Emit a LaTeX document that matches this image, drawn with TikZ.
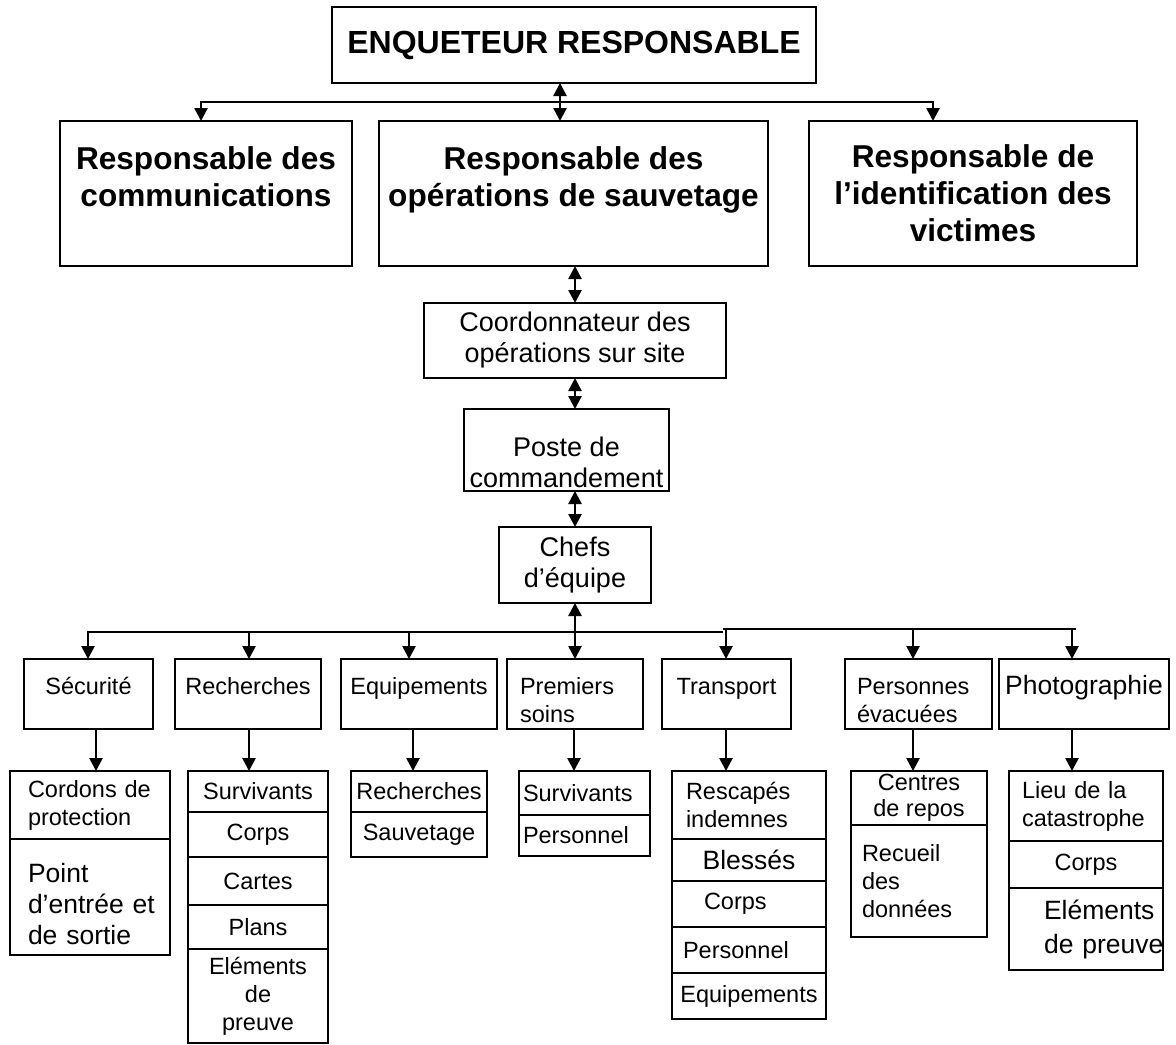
\documentclass[tikz,border=0pt]{standalone}
\usepackage{fontspec}
\setmainfont{Liberation Sans}
\usetikzlibrary{arrows.meta,positioning}

\tikzset{
  base/.style={draw, line width=1.3pt, inner xsep=2pt, inner ysep=2pt,
    outer sep=0pt, align=center},
  titlebox/.style={base, font=\bfseries\fontsize{16}{19}\selectfont,
    minimum width=242pt, minimum height=38pt},
  head/.style={base, font=\bfseries\fontsize{15.8}{18.5}\selectfont,
    minimum height=72.5pt},
  mid/.style={base, font=\fontsize{13.5}{15.5}\selectfont},
  team/.style={base, font=\fontsize{11.75}{14}\selectfont,
    minimum height=35pt, text height=9pt, text depth=9pt},
  cell/.style={base, font=\fontsize{11.75}{14}\selectfont},
  big/.style={font=\fontsize{13.25}{15.5}\selectfont},
  lft/.style 2 args={align=left, inner xsep=#1, text width=#2},
  wire/.style={line width=1.3pt},
  link/.style={line width=1.3pt, -{Triangle[width=6.5pt,length=6.5pt]}},
  dlink/.style={line width=1.3pt,
    {Triangle[width=6.5pt,length=6.5pt]}-{Triangle[width=6.5pt,length=6.5pt]}}
}

\begin{document}
\begin{tikzpicture}[x=0.5pt,y=-0.5pt]
  \useasboundingbox (0,0) rectangle (1176,1044);
  % Add the top boxes
  \node[titlebox] (enq) at (574,45) {ENQUETEUR RESPONSABLE};
  \node[head, minimum width=146pt, text height=30pt, text depth=17.5pt]
    (comm) at (206,193.5) {Responsable des\\communications};
  \node[head, minimum width=194.5pt, text height=30pt, text depth=17.5pt]
    (sauv) at (573.5,193.5) {Responsable des\\opérations de sauvetage};
  \node[head, minimum width=164pt]
    (ident) at (973,193.5) {Responsable de\\l’identification des\\victimes};
  % Add the chain of command
  \node[mid, minimum width=151pt, minimum height=37.5pt]
    (coord) at (575,340.5) {Coordonnateur des\\opérations sur site};
  \node[mid, minimum width=102.5pt, minimum height=41pt, inner ysep=0pt,
    text height=38pt, text depth=0.3pt]
    (poste) at (566.5,450) {Poste de\\commandement};
  \node[mid, minimum width=76pt, minimum height=38pt]
    (chefs) at (575,565) {Chefs\\d’équipe};
  % Add the teams
  \node[team, minimum width=64.5pt] (secu) at (88.5,694) {Sécurité};
  \node[team, minimum width=73pt] (rech) at (248,694) {Recherches};
  \node[team, minimum width=78pt] (equip) at (419,694) {Equipements};
  \node[team, lft={6.5pt}{55pt}] (soins) at (575,694) {Premiers\\soins};
  \node[team, minimum width=64.5pt] (transp) at (726.5,694) {Transport};
  \node[team, lft={6pt}{61.5pt}] (evac) at (918.5,694) {Personnes\\évacuées};
  \node[team, big, minimum width=85pt] (photo) at (1084,694) {Photographie};
  % Add the tasks of each team
  \node[cell, minimum height=34pt, lft={9pt}{62pt}, anchor=north]
    (secu1) at (90,771) {Cordons~de\\protection};
  \node[cell, big, minimum height=58pt, lft={9pt}{62pt},
    text height=10pt, text depth=24.5pt, below=0pt of secu1]
    (secu2) {Point\\d’entrée~et\\de sortie};

  \node[cell, minimum width=70pt, minimum height=20.5pt, anchor=north]
    (rech1) at (258,771) {Survivants};
  \node[cell, minimum width=70pt, minimum height=22.5pt, below=0pt of rech1]
    (rech2) {Corps};
  \node[cell, minimum width=70pt, minimum height=24pt, below=0pt of rech2]
    (rech3) {Cartes};
  \node[cell, minimum width=70pt, minimum height=22pt, below=0pt of rech3]
    (rech4) {Plans};
  \node[cell, minimum width=70pt, minimum height=47pt, below=0pt of rech4]
    (rech5) {Eléments\\de\\preuve};

  \node[cell, minimum width=68pt, minimum height=20.5pt, anchor=north]
    (equip1) at (419,771) {Recherches};
  \node[cell, minimum width=68pt, minimum height=22.5pt, below=0pt of equip1]
    (equip2) {Sauvetage};

  \node[cell, minimum height=22pt, lft={2pt}{61.5pt}, anchor=north]
    (soins1) at (584.5,771) {Survivants};
  \node[cell, minimum height=20.5pt, lft={2pt}{61.5pt}, below=0pt of soins1]
    (soins2) {Personnel};

  \node[cell, minimum height=34pt, lft={7pt}{63pt}, anchor=north]
    (transp1) at (749,771) {Rescapés\\indemnes};
  \node[cell, big, minimum width=77pt, minimum height=21pt, below=0pt of transp1]
    (transp2) {Blessés};
  \node[cell, minimum height=23pt, lft={16pt}{45pt}, below=0pt of transp2]
    (transp3) {Corps};
  \node[cell, minimum height=23pt, lft={5.5pt}{66pt}, below=0pt of transp3]
    (transp4) {Personnel};
  \node[cell, minimum width=77pt, minimum height=23pt, below=0pt of transp4]
    (transp5) {Equipements};

  \node[cell, font=\fontsize{11.75}{13}\selectfont, inner ysep=0pt,
    minimum width=68pt, minimum height=27pt, anchor=north]
    (evac1) at (919,771) {Centres\\de repos};
  \node[cell, minimum height=56pt, lft={5.5pt}{57pt}, below=0pt of evac1]
    (evac2) {Recueil\\des\\données};

  \node[cell, minimum height=35pt, lft={6.5pt}{64pt}, anchor=north]
    (photo1) at (1086,771) {Lieu de la\\catastrophe};
  \node[cell, minimum width=77pt, minimum height=23.5pt, below=0pt of photo1]
    (photo2) {Corps};
  \node[cell, font=\fontsize{13.25}{17}\selectfont, minimum height=41pt,
    lft={17.5pt}{42pt}, below=0pt of photo2]
    (photo3) {Eléments\\de~preuve};

  % Connect the top boxes
  \coordinate (topL) at (201,102);
  \coordinate (topM) at (560,102);
  \coordinate (topR) at (933,102);
  \draw[link] (topM) -- (topL) -- (topL |- comm.north);
  \draw[link] (topM) -- (topR) -- (topR |- ident.north);
  \draw[dlink] (topM |- enq.south) -- (topM |- sauv.north);
  % Connect the chain of command
  \draw[dlink] (coord.north |- sauv.south) -- (coord.north);
  \draw[dlink] (chefs.north |- coord.south) -- (chefs.north |- poste.north);
  \draw[dlink] (chefs.north |- poste.south) -- (chefs.north);
  \draw[dlink] (chefs.south) -- (soins.north);
  % Connect the teams
  \coordinate (busL) at (88,632);
  \coordinate (busM) at (723,632);
  \coordinate (busN) at (723,629);
  \coordinate (busR) at (1076,629);
  \draw[link] (busM) -- (busL) -- (busL |- secu.north);
  \draw[wire] (busN) -- (busR);
  \foreach \n/\x in {rech/249, equip/409}{
    \coordinate (p) at (\x,632);
    \draw[link] (p) -- (p |- \n.north);
  }
  \foreach \n/\x in {transp/726, evac/913, photo/1072}{
    \coordinate (p) at (\x,629);
    \draw[link] (p) -- (p |- \n.north);
  }
  \foreach \n/\x in {secu/96, rech/249, equip/413, soins/574,
                     transp/726, evac/913, photo/1072}{
    \coordinate (p) at (\x,0);
    \draw[link] (p |- \n.south) -- (p |- \n1.north);
  }
\end{tikzpicture}
\end{document}
